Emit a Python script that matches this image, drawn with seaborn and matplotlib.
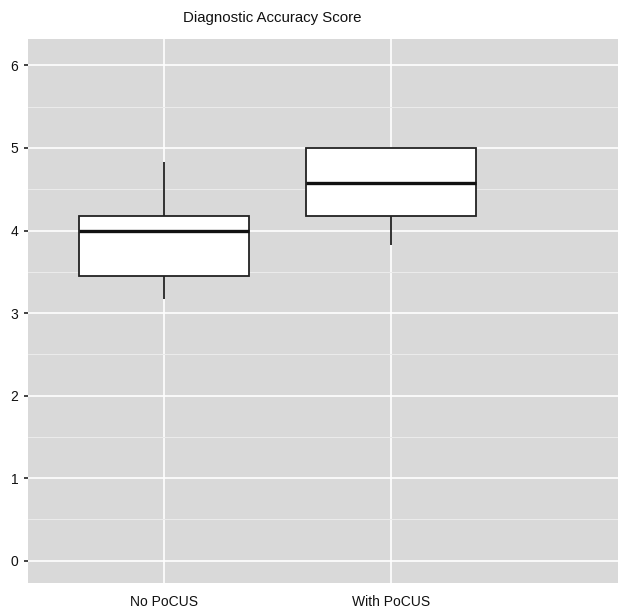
import matplotlib
matplotlib.use("Agg")
import matplotlib.pyplot as plt
import seaborn as sns
import pandas as pd
from matplotlib.ticker import MultipleLocator

# Five-number summaries (min, Q1, median, Q3, max)
groups = ["No PoCUS", "With PoCUS"]
no_pocus = [3.17, 3.45, 4.00, 4.17, 4.83]
with_pocus = [3.83, 4.17, 4.58, 5.00, 5.00]
y_ticks = [0, 1, 2, 3, 4, 5, 6]
title = "Diagnostic Accuracy Score"

df = pd.DataFrame({
    "group": [groups[0]] * len(no_pocus) + [groups[1]] * len(with_pocus),
    "score": no_pocus + with_pocus,
})

sns.set_theme(style="darkgrid")
plt.rcParams["font.family"] = ["Liberation Sans", "DejaVu Sans"]

W, H = 618, 611
fig = plt.figure(figsize=(W / 100, H / 100), dpi=100)
fig.patch.set_facecolor("white")
ax = fig.add_axes([28 / W, (H - 583) / H, 1 - 28 / W, (583 - 39) / H])
ax.set_facecolor("#d9d9d9")

sns.boxplot(
    data=df, x="group", y="score", order=groups, ax=ax, width=0.75,
    whis=1.5, showcaps=False, showfliers=False,
    boxprops=dict(facecolor="white", edgecolor="#222222", linewidth=1.3),
    whiskerprops=dict(color="#222222", linewidth=1.3),
    medianprops=dict(color="#111111", linewidth=2.4),
    zorder=3,
)

ax.set_xlim(-0.6, 2.0)
ax.set_ylim(-0.27, 6.32)
ax.set_yticks(y_ticks)
ax.yaxis.set_minor_locator(MultipleLocator(0.5))
ax.grid(which="major", color="white", linewidth=1.2)
ax.grid(which="minor", axis="y", color="#ececec", linewidth=0.7)
ax.set_axisbelow(True)
for s in ax.spines.values():
    s.set_visible(False)
ax.set_xlabel("")
ax.set_ylabel("")
ax.tick_params(axis="y", which="major", length=3, width=1.2, color="#222222",
               labelsize=10, labelcolor="#111111", left=True, pad=4)
ax.tick_params(axis="y", which="minor", length=0)
ax.tick_params(axis="x", length=0, labelsize=10, labelcolor="#111111", pad=9)

fig.text(272 / W, 1 - 18 / H, title, ha="center", va="center",
         fontsize=10.8, color="#111111")

fig.savefig("out.png", dpi=100)
